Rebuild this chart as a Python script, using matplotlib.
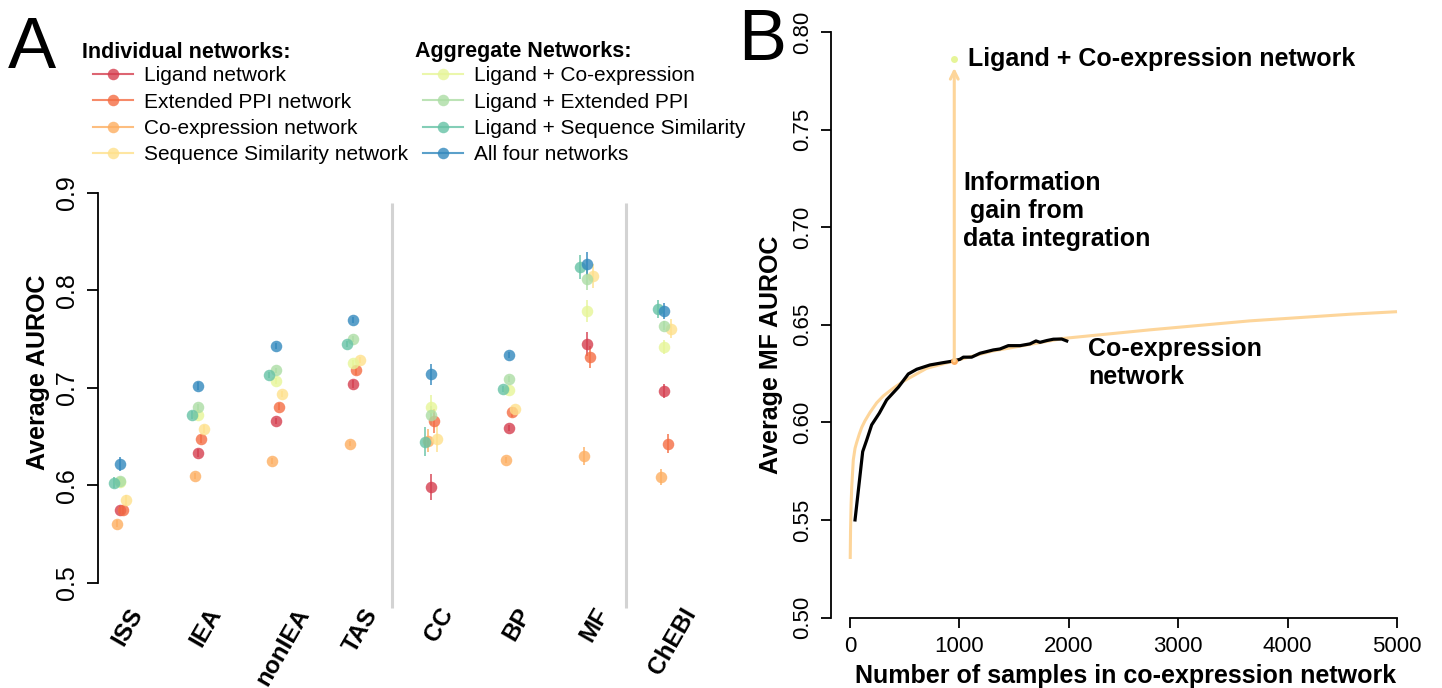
import matplotlib
matplotlib.use("Agg")
import matplotlib.pyplot as plt
from matplotlib.lines import Line2D
import numpy as np

plt.rcParams['font.family'] = ['Liberation Sans', 'DejaVu Sans']

# ---------------- Panel A data ----------------
categories = ["ISS", "IEA", "nonIEA", "TAS", "CC", "BP", "MF", "ChEBI"]
series_names = ["Ligand network", "Extended PPI network", "Co-expression network",
                "Sequence Similarity network", "Ligand + Co-expression",
                "Ligand + Extended PPI", "Ligand + Sequence Similarity",
                "All four networks"]
series_colors = ["#D53E4F", "#F46D43", "#FDAE61", "#FEE08B",
                 "#E6F598", "#ABDDA4", "#66C2A5", "#3288BD"]

ligand      = [0.5745, 0.633, 0.666, 0.704, 0.5985, 0.659, 0.745, 0.697]
ppi         = [0.5745, 0.648, 0.681, 0.718, 0.666, 0.675, 0.732, 0.643]
coexp       = [0.561, 0.610, 0.6255, 0.643, 0.646, 0.626, 0.630, 0.609]
seqsim      = [0.585, 0.658, 0.6935, 0.729, 0.648, 0.678, 0.815, 0.761]
lig_coexp   = [0.604, 0.672, 0.707, 0.726, 0.6805, 0.6976, 0.779, 0.742]
lig_ppi     = [0.605, 0.680, 0.718, 0.750, 0.672, 0.709, 0.812, 0.764]
lig_seq     = [0.603, 0.6725, 0.713, 0.7455, 0.645, 0.699, 0.824, 0.781]
all_four    = [0.622, 0.702, 0.743, 0.770, 0.714, 0.7335, 0.8275, 0.779]

ligand_err    = [0.004, 0.004, 0.003, 0.004, 0.013, 0.003, 0.012, 0.007]
ppi_err       = [0.004, 0.004, 0.004, 0.005, 0.012, 0.005, 0.011, 0.010]
coexp_err     = [0.004, 0.003, 0.003, 0.003, 0.012, 0.003, 0.009, 0.008]
seqsim_err    = [0.005, 0.004, 0.003, 0.003, 0.014, 0.003, 0.012, 0.010]
lig_coexp_err = [0.005, 0.004, 0.003, 0.003, 0.012, 0.003, 0.011, 0.007]
lig_ppi_err   = [0.004, 0.004, 0.003, 0.003, 0.010, 0.003, 0.011, 0.005]
lig_seq_err   = [0.006, 0.004, 0.003, 0.003, 0.015, 0.003, 0.012, 0.009]
all_four_err  = [0.007, 0.004, 0.003, 0.003, 0.011, 0.003, 0.012, 0.008]

series_vals = [ligand, ppi, coexp, seqsim, lig_coexp, lig_ppi, lig_seq, all_four]
series_errs = [ligand_err, ppi_err, coexp_err, seqsim_err, lig_coexp_err,
               lig_ppi_err, lig_seq_err, all_four_err]
series_offsets = [0.0, 0.04, -0.04, 0.08, 0.0, 0.0, -0.08, 0.0]

# ---------------- Panel B data ----------------
fit_x = [2, 5, 10, 16, 30, 46, 61, 85, 107, 137, 183, 244, 304, 396, 487, 701, 953,
         1300, 1600, 1950, 2742, 3656, 4570, 5000]
fit_y = [0.530, 0.545, 0.558, 0.567, 0.5807, 0.5867, 0.5897, 0.5940, 0.5974, 0.6008,
         0.6051, 0.6100, 0.6135, 0.6175, 0.6210, 0.6277, 0.6315,
         0.6365, 0.6395, 0.6430, 0.6474, 0.6520, 0.6554, 0.6567]
obs_x = [46, 116, 153, 198, 268, 335, 442, 533, 610, 731, 853, 953, 1005, 1036,
         1112, 1188, 1310, 1371, 1447, 1554, 1645, 1700, 1737, 1798, 1859, 1935, 1981]
obs_y = [0.550, 0.585, 0.591, 0.5987, 0.6047, 0.6115, 0.618, 0.6248, 0.6272,
         0.6294, 0.6306, 0.6315, 0.6323, 0.6334, 0.6334, 0.6354, 0.6371, 0.6376,
         0.6393, 0.6393, 0.6402, 0.6417, 0.6410, 0.6419, 0.6426, 0.6427, 0.6417]
coexp_point = (953, 0.6315)
lig_coexp_point = (953, 0.786)

W, H = 1442, 688
fig = plt.figure(figsize=(W / 100, H / 100), dpi=100)

def px_axes(l, r, top, bottom):
    return fig.add_axes([l / W, 1 - bottom / H, (r - l) / W, (bottom - top) / H])

# ---------------- Panel A ----------------
axA = px_axes(98, 720, 193, 600)
xpos = np.arange(len(categories))
for vals, errs, off, col in zip(series_vals, series_errs, series_offsets, series_colors):
    axA.errorbar(xpos + off, vals, yerr=errs, fmt='o', color=col, ms=8.3,
                 elinewidth=1.3, capsize=0, alpha=0.8, mew=0)
axA.vlines([3.5, 6.5], 0.4744, 0.8897, colors='#D3D3D3', lw=2.2, clip_on=False)
axA.set_xlim(-0.2829, 7.714)
axA.set_ylim(0.48256, 0.9)
for s in ['top', 'right', 'bottom']:
    axA.spines[s].set_visible(False)
axA.spines['left'].set_bounds(0.5, 0.9)
axA.spines['left'].set_linewidth(1.3)
axA.set_yticks([0.5, 0.6, 0.7, 0.8, 0.9])
axA.set_yticklabels(['0.5', '0.6', '0.7', '0.8', '0.9'], rotation=90, va='center')
axA.tick_params(axis='y', length=8, width=1.3, labelsize=18, pad=6)
axA.set_xticks(xpos + 0.1)
axA.set_xticklabels(categories, rotation=60, fontweight='bold', fontsize=17.5,
                    ha='center', va='top')
axA.tick_params(axis='x', length=0, pad=3)
fig.text(38 / W, 1 - 372 / H, 'Average AUROC', rotation=90, fontsize=18,
         fontweight='bold', ha='center', va='center')
fig.text(8 / W, 1 - 68 / H, 'A', fontsize=52, va='baseline', ha='left')

# legends
fig.text(82 / W, 1 - 52 / H, 'Individual networks:', fontsize=15.5,
         fontweight='bold', va='center', ha='left')
fig.text(415 / W, 1 - 52 / H, 'Aggregate Networks:', fontsize=15.5,
         fontweight='bold', va='center', ha='left')
handles = [Line2D([], [], color=c, marker='o', ms=8.3, lw=1.5, alpha=0.8, mew=0)
           for c in series_colors]
leg_kw = dict(loc='upper left', bbox_transform=fig.transFigure, frameon=False,
              fontsize=15, borderpad=0, borderaxespad=0, handlelength=1.92,
              handletextpad=0.53, labelspacing=0.36, numpoints=1)
fig.legend(handles[:4], series_names[:4], bbox_to_anchor=(93 / W, 1 - 66 / H), **leg_kw)
fig.legend(handles[4:], series_names[4:], bbox_to_anchor=(423 / W, 1 - 66 / H), **leg_kw)

# ---------------- Panel B ----------------
axB = px_axes(831, 1420, 25, 617.5)
axB.plot(fit_x, fit_y, color='#FDD59A', lw=2.2, solid_capstyle='butt')
axB.plot(obs_x, obs_y, color='black', lw=2.3)
axB.annotate('', xy=(lig_coexp_point[0], 0.7816), xytext=coexp_point,
             arrowprops=dict(arrowstyle='->', color='#FDD59A', lw=2.2,
                             mutation_scale=14, shrinkA=0, shrinkB=0))
axB.plot([coexp_point[0]], [coexp_point[1]], 'o', color='#FDAE61', ms=5, mew=0)
axB.plot([lig_coexp_point[0]], [lig_coexp_point[1]], 'o', color='#E6F598', ms=5, mew=0)
axB.text(1080, lig_coexp_point[1], 'Ligand + Co-expression network', fontsize=18,
         fontweight='bold', va='center', ha='left')
axB.text(1033, 0.7083, 'Information\n gain from\ndata integration', fontsize=18,
         fontweight='bold', va='center', ha='left', linespacing=1.2)
axB.text(2175, 0.6304, 'Co-expression\nnetwork', fontsize=18,
         fontweight='bold', va='center', ha='left', linespacing=1.2)
axB.set_xlim(-173.7, 5210)
axB.set_ylim(0.5, 0.8036)
for s in ['top', 'right']:
    axB.spines[s].set_visible(False)
axB.spines['left'].set_bounds(0.5, 0.8)
axB.spines['bottom'].set_bounds(0, 5000)
axB.spines['left'].set_linewidth(1.3)
axB.spines['bottom'].set_linewidth(1.3)
axB.set_yticks([0.5, 0.55, 0.6, 0.65, 0.7, 0.75, 0.8])
axB.set_yticklabels(['0.50', '0.55', '0.60', '0.65', '0.70', '0.75', '0.80'],
                    rotation=90, va='center')
axB.set_xticks([0, 1000, 2000, 3000, 4000, 5000])
axB.set_xticklabels(['0', '1000', '2000', '3000', '4000', '5000'])
axB.tick_params(axis='both', length=7, width=1.3, labelsize=16)
axB.tick_params(axis='y', pad=6)
axB.tick_params(axis='x', pad=6)
axB.set_xlabel('Number of samples in co-expression network', fontsize=18,
               fontweight='bold', labelpad=5)
fig.text(771 / W, 1 - 355 / H, 'Average MF AUROC', rotation=90, fontsize=18,
         fontweight='bold', ha='center', va='center')
fig.text(738 / W, 1 - 60 / H, 'B', fontsize=52, va='baseline', ha='left')

fig.savefig('out.png', dpi=100)
